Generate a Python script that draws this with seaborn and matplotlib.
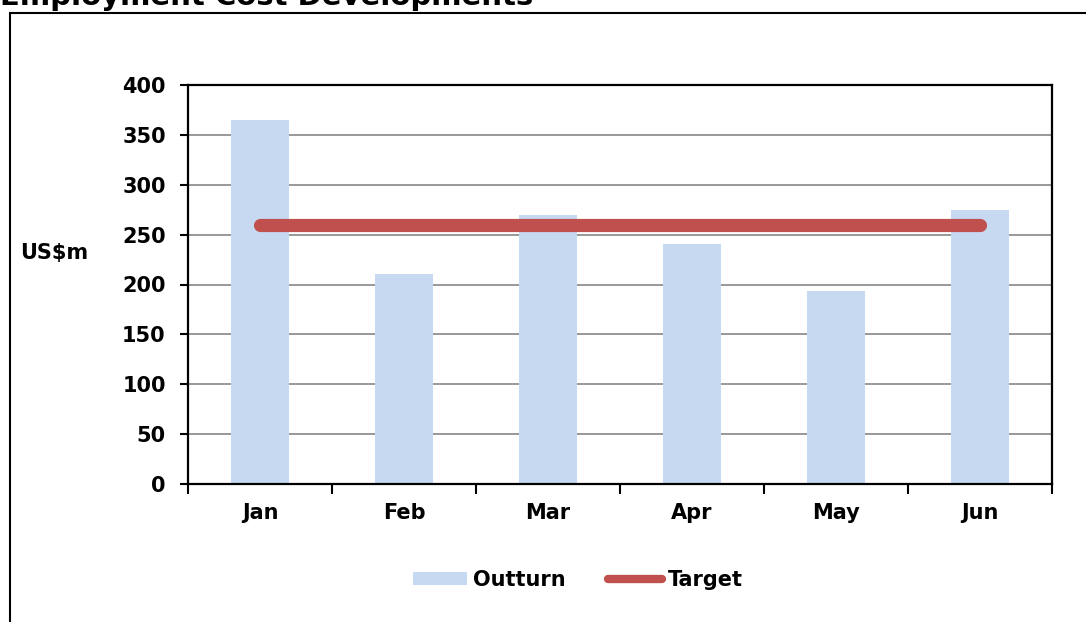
import numpy as np
import pandas as pd
import matplotlib
matplotlib.use("Agg")
import matplotlib.pyplot as plt
import seaborn as sns
from matplotlib.patches import Rectangle, Patch
from matplotlib.lines import Line2D

months = ["Jan", "Feb", "Mar", "Apr", "May", "Jun"]
outturn = [365, 211, 270, 241, 193, 275]
target = [260, 260, 260, 260, 260, 260]
y_ticks = [0, 50, 100, 150, 200, 250, 300, 350, 400]

BAR_COLOR = "#C6D9F1"
LINE_COLOR = "#C0504D"
GRID_COLOR = "#868686"

sns.set_theme(style="white")
plt.rcParams["font.family"] = ["DejaVu Sans"]
plt.rcParams["font.weight"] = "bold"
for key in ["text.color", "xtick.color", "ytick.color", "axes.labelcolor"]:
    plt.rcParams[key] = "black"

W, H = 1086, 622
fig = plt.figure(figsize=(W / 100, H / 100), dpi=100)

# outer chart frame (runs off the right/bottom of the picture, title is clipped at top)
fig.patches.append(Rectangle((10 / W, -0.1), 1.2, 1.1 - 13 / H, transform=fig.transFigure,
                             fill=False, edgecolor="black", linewidth=1.5))
fig.text(0, 1 - 5 / H, "Employment Cost Developments", fontsize=21, fontweight="bold",
         ha="left", va="baseline")

ax = fig.add_axes([188 / W, (H - 484) / H, (1052 - 188) / W, (484 - 85) / H])

df = pd.DataFrame({"month": months, "outturn": outturn})
sns.barplot(data=df, x="month", y="outturn", color=BAR_COLOR, width=0.4,
            saturation=1, edgecolor="none", ax=ax, zorder=2)
ax.plot(np.arange(len(months)), target, color=LINE_COLOR, linewidth=9.5,
        solid_capstyle="round", zorder=3)

ax.set_xlim(-0.5, len(months) - 0.5)
ax.set_ylim(0, 400)
ax.set_yticks(y_ticks)
ax.yaxis.grid(True, color=GRID_COLOR, linewidth=1.2, zorder=0)
ax.set_axisbelow(True)
for s in ax.spines.values():
    s.set_color("black")
    s.set_linewidth(1.6)
    s.set_visible(True)

ax.set_xticks(np.arange(-0.5, len(months)), minor=True)
ax.tick_params(axis="x", which="major", length=0, pad=14, labelsize=15)
ax.tick_params(axis="x", which="minor", length=7, width=1.5, color="black", direction="out", bottom=True)
ax.tick_params(axis="y", length=6, width=1.5, color="black", direction="out", left=True,
               labelsize=15, pad=10)
for lab in ax.get_xticklabels() + ax.get_yticklabels():
    lab.set_fontweight("bold")
ax.set_xlabel("")
ax.set_ylabel("")
fig.text(20 / W, 1 - 253 / H, "US$m", fontsize=15, fontweight="bold", ha="left", va="center")

handles = [Patch(facecolor=BAR_COLOR, edgecolor="none"),
           Line2D([0], [0], color=LINE_COLOR, linewidth=6, solid_capstyle="round")]
fig.legend(handles, ["Outturn", "Target"], loc="center", bbox_to_anchor=(578 / W, 1 - 580 / H),
           ncol=2, frameon=False, prop={"size": 15, "weight": "bold"},
           handlelength=2.6, handleheight=0.6, handletextpad=0.3, columnspacing=2.0)

fig.savefig("out.png", dpi=100)
